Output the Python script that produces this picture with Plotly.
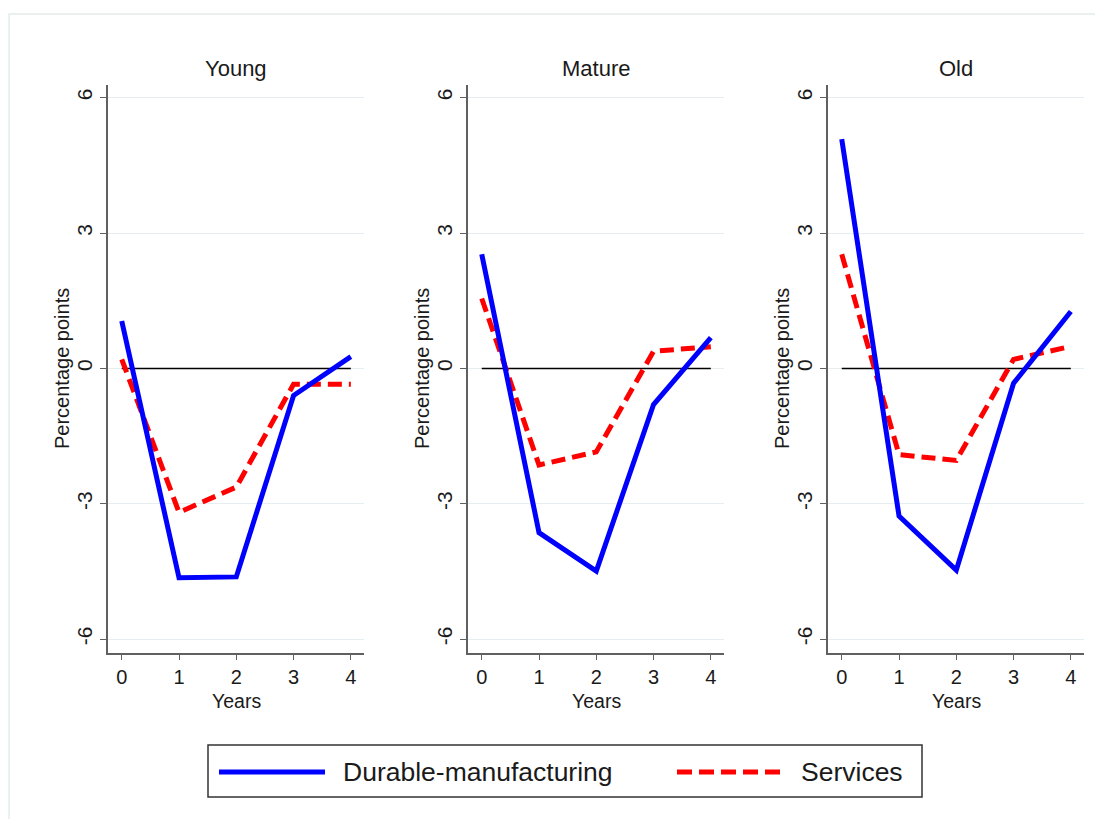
import plotly.graph_objects as go

# ---- data ----
years = [0, 1, 2, 3, 4]
panels = ["Young", "Mature", "Old"]
durable_young = [1.05, -4.64, -4.62, -0.60, 0.26]
services_young = [0.20, -3.19, -2.63, -0.35, -0.35]
durable_mature = [2.53, -3.64, -4.49, -0.80, 0.68]
services_mature = [1.55, -2.14, -1.85, 0.38, 0.48]
durable_old = [5.08, -3.27, -4.47, -0.33, 1.26]
services_old = [2.53, -1.91, -2.04, 0.20, 0.49]
zero_line = [0, 0, 0, 0, 0]
y_ticks = [-6, -3, 0, 3, 6]
series_names = ["Durable-manufacturing", "Services"]

durable = [durable_young, durable_mature, durable_old]
services = [services_young, services_mature, services_old]

# page body has an 8px margin; figure is sized to fill the rest of the window
OFF = 8
W, H = 1103 - OFF, 819 - OFF


def fx(px):
    return (px - OFF) / W


def fy(py):
    return 1 - (py - OFF) / H


FONT = "Liberation Sans, Arial, sans-serif"
TXT = "#1a1a1a"
BLUE = "#0000ff"
RED = "#ff0000"
AXIS_COL = "#606060"
GRID_COL = "#e6eef1"

px_x = [(108, 364), (468, 724), (828, 1084)]
y_top, y_bot = 85, 652.7

fig = go.Figure()

for i in range(3):
    xa = "x" if i == 0 else f"x{i+1}"
    ya = "y" if i == 0 else f"y{i+1}"
    fig.add_trace(go.Scatter(x=years, y=zero_line, xaxis=xa, yaxis=ya, mode="lines",
                             line=dict(color="black", width=1.5), showlegend=False, hoverinfo="skip"))
    fig.add_trace(go.Scatter(x=years, y=services[i], xaxis=xa, yaxis=ya, mode="lines",
                             name=series_names[1],
                             line=dict(color=RED, width=5, dash="14px,7px"), showlegend=False))
    fig.add_trace(go.Scatter(x=years, y=durable[i], xaxis=xa, yaxis=ya, mode="lines",
                             name=series_names[0],
                             line=dict(color=BLUE, width=5), showlegend=False))

layout = dict(
    width=W, height=H,
    margin=dict(l=0, r=0, t=0, b=0),
    paper_bgcolor="white", plot_bgcolor="white",
    font=dict(family=FONT, color=TXT),
    showlegend=False,
)

annotations = []
shapes = []
for i in range(3):
    x0, x1 = px_x[i]
    key = "" if i == 0 else str(i + 1)
    layout["xaxis" + key] = dict(
        domain=[fx(x0), fx(x1)], range=[-0.24, 4.23], anchor="y" + key,
        tickmode="array", tickvals=years, ticktext=[str(v) for v in years],
        ticks="outside", ticklen=6, tickcolor=AXIS_COL, tickwidth=1.2,
        showline=True, linecolor=AXIS_COL, linewidth=1.5,
        showgrid=False, zeroline=False,
        tickfont=dict(size=20, family=FONT, color=TXT),
    )
    layout["yaxis" + key] = dict(
        domain=[fy(y_bot), fy(y_top)], range=[-6.3, 6.28], anchor="x" + key,
        tickmode="array", tickvals=y_ticks, ticktext=[str(v) for v in y_ticks],
        tickangle=-90,
        ticks="outside", ticklen=6, tickcolor=AXIS_COL, tickwidth=1.2,
        showline=True, linecolor=AXIS_COL, linewidth=1.5,
        showgrid=True, gridcolor=GRID_COL, gridwidth=1.2, zeroline=False,
        tickfont=dict(size=21, family=FONT, color=TXT),
    )
    cx = fx((x0 + x1) / 2)
    annotations.append(dict(text=panels[i], x=cx, y=fy(69), xref="paper", yref="paper",
                            showarrow=False, xanchor="center", yanchor="middle",
                            font=dict(size=22, family=FONT, color=TXT)))
    annotations.append(dict(text="Years", x=cx, y=fy(701), xref="paper", yref="paper",
                            showarrow=False, xanchor="center", yanchor="middle",
                            font=dict(size=19.5, family=FONT, color=TXT)))
    annotations.append(dict(text="Percentage points", x=fx(x0 - 46), y=fy(369),
                            xref="paper", yref="paper", textangle=-90,
                            showarrow=False, xanchor="center", yanchor="middle",
                            font=dict(size=20, family=FONT, color=TXT)))

# outer faint border
shapes.append(dict(type="rect", xref="paper", yref="paper",
                   x0=0.001, x1=1.02, y0=-0.02, y1=fy(14),
                   line=dict(color="#e4ebeb", width=1.5), fillcolor="rgba(0,0,0,0)", layer="below"))

# manual legend
ly = fy(772)
shapes.append(dict(type="rect", xref="paper", yref="paper",
                   x0=fx(208), x1=fx(922), y0=fy(797), y1=fy(745),
                   line=dict(color="#333333", width=1.5), fillcolor="white"))
shapes.append(dict(type="line", xref="paper", yref="paper",
                   x0=fx(219), x1=fx(325), y0=ly, y1=ly,
                   line=dict(color=BLUE, width=5)))
shapes.append(dict(type="line", xref="paper", yref="paper",
                   x0=fx(677), x1=fx(781), y0=ly, y1=ly,
                   line=dict(color=RED, width=5, dash="15px,7px")))
annotations.append(dict(text=series_names[0], x=fx(341), y=ly, xref="paper", yref="paper",
                        showarrow=False, xanchor="left", yanchor="middle",
                        font=dict(size=26.5, family=FONT, color=TXT)))
annotations.append(dict(text=series_names[1], x=fx(799), y=ly, xref="paper", yref="paper",
                        showarrow=False, xanchor="left", yanchor="middle",
                        font=dict(size=26.5, family=FONT, color=TXT)))

layout["annotations"] = annotations
layout["shapes"] = shapes
fig.update_layout(**layout)

fig.write_html("out.html")
